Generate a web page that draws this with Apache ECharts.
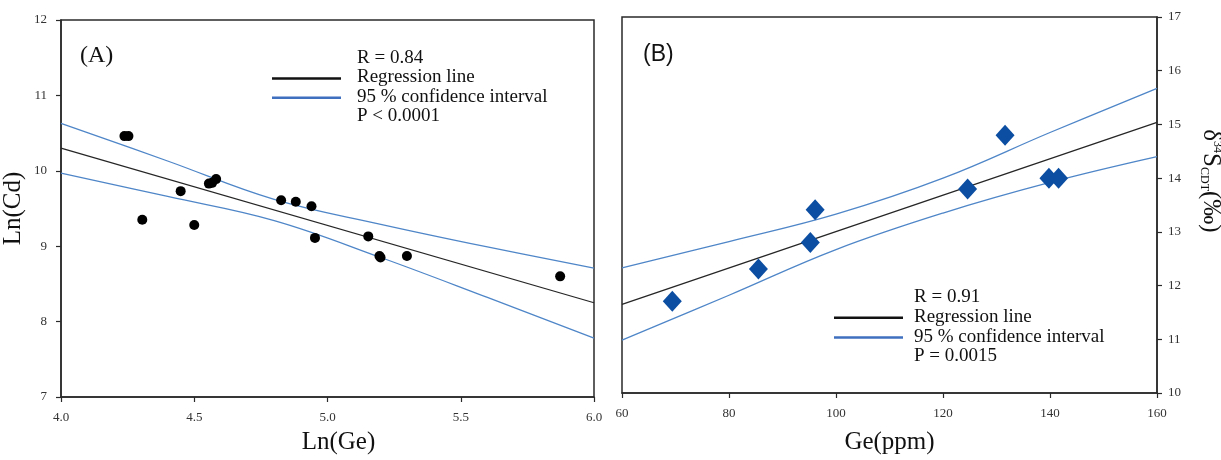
<!DOCTYPE html>
<html>
<head>
<meta charset="utf-8">
<script src="https://cdn.jsdelivr.net/npm/echarts@6/dist/echarts.min.js"></script>
<style>
html,body{margin:0;padding:0;background:#fff;}
#c{width:1221px;height:460px;}
</style>
</head>
<body>
<div id="c"></div>
<script>
// ---------- Panel A data: Ln(Ge) vs Ln(Cd) ----------
const aLnGe = [4.238, 4.253, 4.305, 4.449, 4.500, 4.555, 4.567, 4.582, 4.826, 4.881, 4.940, 4.953, 5.153, 5.195, 5.199, 5.298, 5.873];
const aLnCd = [10.46, 10.46, 9.35, 9.73, 9.28, 9.83, 9.84, 9.89, 9.61, 9.59, 9.53, 9.11, 9.13, 8.87, 8.85, 8.87, 8.60];
const aRegX = [4.0, 6.0];
const aRegY = [10.30, 8.25];
const aCiX = [4.0, 4.4, 4.8, 5.2, 5.6, 6.0];
const aCiUpper = [10.63, 10.13, 9.62, 9.29, 8.99, 8.71];
const aCiLower = [9.97, 9.66, 9.34, 8.85, 8.32, 7.78];
const aXTicks = [4.0, 4.5, 5.0, 5.5, 6.0];
const aYTicks = [7, 8, 9, 10, 11, 12];

// ---------- Panel B data: Ge(ppm) vs d34S ----------
const bGe = [69.4, 85.5, 96.1, 95.2, 124.6, 131.6, 139.8, 141.6];
const bD34S = [11.71, 12.31, 13.41, 12.80, 13.80, 14.80, 14.00, 14.00];
const bRegX = [60, 160];
const bRegY = [11.65, 15.04];
const bCiX = [60, 80, 100, 120, 140, 160];
const bCiUpper = [12.33, 12.82, 13.33, 14.00, 14.85, 15.67];
const bCiLower = [10.985, 11.82, 12.67, 13.35, 13.92, 14.40];
const bXTicks = [60, 80, 100, 120, 140, 160];
const bYTicks = [10, 11, 12, 13, 14, 15, 16, 17];

const legendA = ['R = 0.84', 'Regression line', '95 % confidence interval', 'P < 0.0001'];
const legendB = ['R = 0.91', 'Regression line', '95 % confidence interval', 'P = 0.0015'];

const SERIF = '"Liberation Serif", "Times New Roman", serif';
const SANS = '"Liberation Sans", Arial, sans-serif';
const AXIS_COLOR = '#2a2a2a';
const LABEL_COLOR = '#333';
const CI_COLOR = '#4f86c8';
const REG_COLOR = '#262626';
const DIAMOND_COLOR = '#0b4ea2';

const zip = (xs, ys) => xs.map((x, i) => [x, ys[i]]);

function axisBase(extra) {
  return Object.assign({
    type: 'value',
    axisLine: { show: true, onZero: false, lineStyle: { color: AXIS_COLOR, width: 1.5 } },
    axisTick: { show: true, inside: false, length: 5, lineStyle: { color: AXIS_COLOR, width: 1.2 } },
    splitLine: { show: false },
    axisLabel: { color: LABEL_COLOR, fontFamily: SERIF, fontSize: 13 },
    nameTextStyle: { color: '#111', fontFamily: SERIF, fontSize: 25 }
  }, extra);
}

const chart = echarts.init(document.getElementById('c'), null, { renderer: 'canvas' });

function legendGraphics(lines, textX, lineX1, lineX2, y0, step) {
  const g = [];
  lines.forEach((t, i) => {
    g.push({
      type: 'text', x: textX, y: y0 + i * step,
      style: { text: t, fontFamily: SERIF, fontSize: 19, fill: '#111', verticalAlign: 'middle', align: 'left' }
    });
  });
  g.push({ type: 'line', shape: { x1: lineX1, y1: y0 + step + 1, x2: lineX2, y2: y0 + step + 1 }, style: { stroke: '#111', lineWidth: 2.5 } });
  g.push({ type: 'line', shape: { x1: lineX1, y1: y0 + 2 * step + 1, x2: lineX2, y2: y0 + 2 * step + 1 }, style: { stroke: '#3f6fbf', lineWidth: 2.5 } });
  return g;
}

const option = {
  backgroundColor: '#fff',
  animation: false,
  grid: [
    { left: 60, top: 20, width: 534, height: 377, show: true, borderColor: AXIS_COLOR, borderWidth: 1.5, backgroundColor: 'transparent' },
    { left: 622, top: 17, width: 535, height: 380, show: true, borderColor: AXIS_COLOR, borderWidth: 1.5, backgroundColor: 'transparent' }
  ],
  xAxis: [
    axisBase({
      gridIndex: 0, min: aXTicks[0], max: aXTicks[aXTicks.length - 1], interval: 0.5,
      name: 'Ln(Ge)', nameLocation: 'middle', nameGap: 33,
      nameTextStyle: { color: '#111', fontFamily: SERIF, fontSize: 25, padding: [0, 0, 0, 22] },
      axisLabel: { color: LABEL_COLOR, fontFamily: SERIF, fontSize: 13, margin: 14, formatter: v => v.toFixed(1) }
    }),
    axisBase({
      gridIndex: 1, min: bXTicks[0], max: bXTicks[bXTicks.length - 1], interval: 20,
      name: 'Ge(ppm)', nameLocation: 'middle', nameGap: 37,
      axisLabel: { color: LABEL_COLOR, fontFamily: SERIF, fontSize: 13, margin: 14 }
    })
  ],
  yAxis: [
    axisBase({
      gridIndex: 0, min: aYTicks[0], max: aYTicks[aYTicks.length - 1], interval: 1,
      name: 'Ln(Cd)', nameLocation: 'middle', nameGap: 35,
      axisLabel: { color: LABEL_COLOR, fontFamily: SERIF, fontSize: 13, margin: 14 }
    }),
    axisBase({
      gridIndex: 1, position: 'right', min: bYTicks[0], max: bYTicks[bYTicks.length - 1], interval: 1,
      axisLabel: { color: LABEL_COLOR, fontFamily: SERIF, fontSize: 13, margin: 11 }
    })
  ],
  series: [
    { type: 'line', xAxisIndex: 0, yAxisIndex: 0, data: zip(aCiX, aCiUpper), smooth: 0.4, showSymbol: false, symbol: 'none', lineStyle: { color: CI_COLOR, width: 1.3 }, z: 2 },
    { type: 'line', xAxisIndex: 0, yAxisIndex: 0, data: zip(aCiX, aCiLower), smooth: 0.4, showSymbol: false, symbol: 'none', lineStyle: { color: CI_COLOR, width: 1.3 }, z: 2 },
    { type: 'line', xAxisIndex: 0, yAxisIndex: 0, data: zip(aRegX, aRegY), showSymbol: false, symbol: 'none', lineStyle: { color: REG_COLOR, width: 1.3 }, z: 2 },
    { type: 'scatter', xAxisIndex: 0, yAxisIndex: 0, data: zip(aLnGe, aLnCd), symbol: 'circle', symbolSize: 10, itemStyle: { color: '#000', opacity: 1 }, z: 3 },

    { type: 'line', xAxisIndex: 1, yAxisIndex: 1, data: zip(bCiX, bCiUpper), smooth: 0.4, showSymbol: false, symbol: 'none', lineStyle: { color: CI_COLOR, width: 1.3 }, z: 2 },
    { type: 'line', xAxisIndex: 1, yAxisIndex: 1, data: zip(bCiX, bCiLower), smooth: 0.4, showSymbol: false, symbol: 'none', lineStyle: { color: CI_COLOR, width: 1.3 }, z: 2 },
    { type: 'line', xAxisIndex: 1, yAxisIndex: 1, data: zip(bRegX, bRegY), showSymbol: false, symbol: 'none', lineStyle: { color: REG_COLOR, width: 1.3 }, z: 2 },
    { type: 'scatter', xAxisIndex: 1, yAxisIndex: 1, data: zip(bGe, bD34S), symbol: 'diamond', symbolSize: [19, 21], itemStyle: { color: DIAMOND_COLOR, opacity: 1 }, z: 3 }
  ],
  graphic: [
    { type: 'text', x: 80, y: 56, style: { text: '(A)', fontFamily: SERIF, fontSize: 24, fill: '#111', verticalAlign: 'middle' } },
    { type: 'text', x: 643, y: 55, style: { text: '(B)', fontFamily: SANS, fontSize: 23, fill: '#111', verticalAlign: 'middle' } },
    {
      type: 'text', x: 1211, y: 181, rotation: -Math.PI / 2,
      style: {
        text: '{d|δ}{sup|34}{s|S}{sub|CDT}{d|(‰)}',
        align: 'center', verticalAlign: 'middle',
        fontFamily: SERIF, fontSize: 25, fill: '#111',
        rich: {
          d: { fontFamily: SERIF, fontSize: 25, fill: '#111' },
          s: { fontFamily: SERIF, fontSize: 25, fill: '#111' },
          sup: { fontFamily: SERIF, fontSize: 12, fill: '#111', verticalAlign: 'top' },
          sub: { fontFamily: SERIF, fontSize: 12, fill: '#111', verticalAlign: 'bottom' }
        }
      }
    }
  ].concat(legendGraphics(legendA, 357, 272, 341, 58, 19.4))
   .concat(legendGraphics(legendB, 914, 834, 903, 297, 19.8))
};

chart.setOption(option);
</script>
</body>
</html>
